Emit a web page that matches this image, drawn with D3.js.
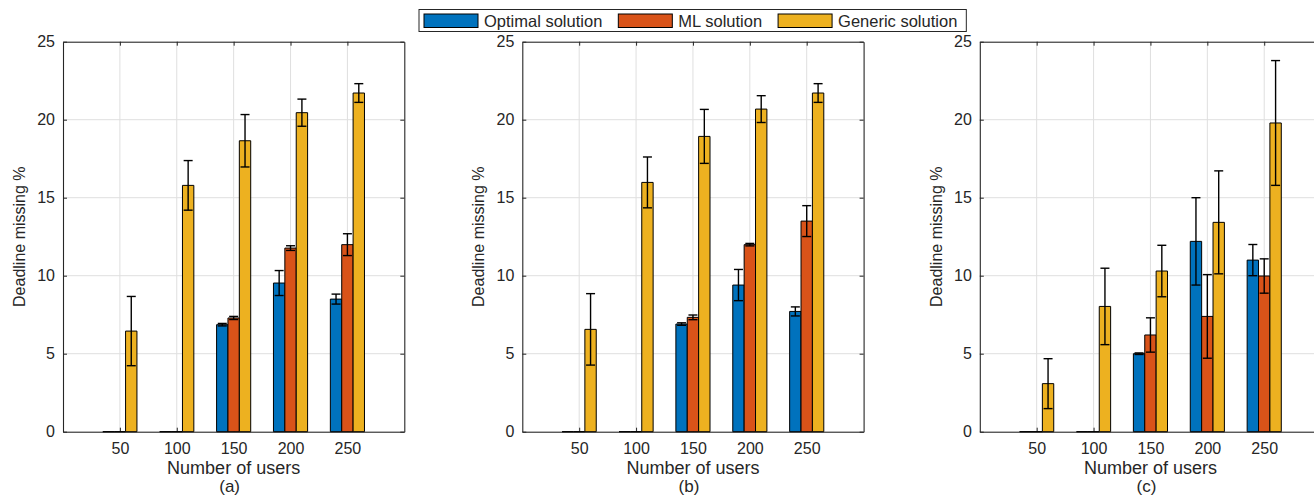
<!DOCTYPE html>
<html>
<head>
<meta charset="utf-8">
<script src="https://cdn.jsdelivr.net/npm/d3@7"></script>
<style>
  body { margin: 0; background: #fff; }
  text { font-family: "Liberation Sans", Arial, Helvetica, sans-serif; fill: #262626; }
</style>
</head>
<body>
<div id="chart"></div>
<script>
var users = [50, 100, 150, 200, 250];
var seriesNames = ["Optimal solution", "ML solution", "Generic solution"];
var seriesColors = ["#0072BD", "#D95319", "#EDB120"];
var panelLabels = ["(a)", "(b)", "(c)"];
var yTicks = [0, 5, 10, 15, 20, 25];

// panel (a)
var optimalA = [0, 0, 6.86, 9.53, 8.5];
var optimalErrA = [0, 0, 0.08, 0.8, 0.32];
var mlA = [0, 0, 7.29, 11.77, 11.99];
var mlErrA = [0, 0, 0.1, 0.15, 0.7];
var genericA = [6.45, 15.79, 18.65, 20.45, 21.71];
var genericErrA = [2.22, 1.59, 1.68, 0.87, 0.6];

// panel (b)
var optimalB = [0, 0, 6.9, 9.4, 7.71];
var optimalErrB = [0, 0, 0.08, 1.0, 0.29];
var mlB = [0, 0, 7.33, 11.99, 13.5];
var mlErrB = [0, 0, 0.15, 0.08, 0.99];
var genericB = [6.56, 15.98, 18.93, 20.68, 21.71];
var genericErrB = [2.29, 1.63, 1.73, 0.86, 0.6];

// panel (c)
var optimalC = [0, 0, 5.0, 12.2, 11.0];
var optimalErrC = [0, 0, 0.05, 2.8, 1.0];
var mlC = [0, 0, 6.2, 7.39, 9.98];
var mlErrC = [0, 0, 1.1, 2.68, 1.1];
var genericC = [3.08, 8.03, 10.3, 13.42, 19.79];
var genericErrC = [1.6, 2.45, 1.65, 3.3, 4.0];

var panels = [
    { label: panelLabels[0], means: [optimalA, mlA, genericA], errs: [optimalErrA, mlErrA, genericErrA] },
    { label: panelLabels[1], means: [optimalB, mlB, genericB], errs: [optimalErrB, mlErrB, genericErrB] },
    { label: panelLabels[2], means: [optimalC, mlC, genericC], errs: [optimalErrC, mlErrC, genericErrC] }
];

var width = 1314, height = 495;
var panelLeft = [63, 522.3, 979.8],
    panelWidth = 341.3,
    plotTop = 41.7,
    plotBottom = 431.7;
var axisColor = "#262626", gridColor = "#dfdfdf";
var barW = 0.2, capHalf = 4.5;

var svg = d3.select("#chart").append("svg")
    .attr("width", width)
    .attr("height", height);

panels.forEach(function (p, pi) {
    var left = panelLeft[pi];
    var x = d3.scaleLinear().domain([0, 6]).range([left, left + panelWidth]);
    var y = d3.scaleLinear().domain([0, 25]).range([plotBottom, plotTop]);
    var g = svg.append("g");

    // grid
    g.append("g").selectAll("line.vg").data(users).enter().append("line")
        .attr("x1", function (d, i) { return x(i + 1); })
        .attr("x2", function (d, i) { return x(i + 1); })
        .attr("y1", plotTop).attr("y2", plotBottom)
        .attr("stroke", gridColor).attr("stroke-width", 1);
    g.append("g").selectAll("line.hg").data(yTicks).enter().append("line")
        .attr("x1", left).attr("x2", left + panelWidth)
        .attr("y1", function (d) { return y(d); })
        .attr("y2", function (d) { return y(d); })
        .attr("stroke", gridColor).attr("stroke-width", 1);

    // axes, ticks pointing inwards
    var tickIdx = [1, 2, 3, 4, 5];
    var xAxis = g.append("g")
        .attr("transform", "translate(0," + plotBottom + ")")
        .call(d3.axisBottom(x).tickValues(tickIdx)
            .tickFormat(function (d) { return users[d - 1]; })
            .tickSizeInner(-4).tickSizeOuter(0).tickPadding(11));
    var yAxis = g.append("g")
        .attr("transform", "translate(" + left + ",0)")
        .call(d3.axisLeft(y).tickValues(yTicks)
            .tickSizeInner(-4).tickSizeOuter(0).tickPadding(8));
    var topAxis = g.append("g")
        .attr("transform", "translate(0," + plotTop + ")")
        .call(d3.axisTop(x).tickValues(tickIdx).tickFormat("")
            .tickSizeInner(-4).tickSizeOuter(0));
    var rightAxis = g.append("g")
        .attr("transform", "translate(" + (left + panelWidth) + ",0)")
        .call(d3.axisRight(y).tickValues(yTicks).tickFormat("")
            .tickSizeInner(-4).tickSizeOuter(0));
    [xAxis, yAxis, topAxis, rightAxis].forEach(function (a) {
        a.selectAll("path").attr("stroke", axisColor).attr("stroke-width", 1.1);
        a.selectAll("line").attr("stroke", axisColor).attr("stroke-width", 1);
        a.selectAll("text").attr("fill", axisColor)
            .style("font-size", "16px")
            .style("font-family", "'Liberation Sans', Arial, Helvetica, sans-serif");
    });

    // bars
    p.means.forEach(function (vals, s) {
        g.append("g").selectAll("path").data(vals).enter().append("path")
            .attr("d", function (d, i) {
                var c = i + 1 + (s - 1) * barW;
                var x0 = x(c - barW / 2), x1 = x(c + barW / 2);
                return "M" + x0 + "," + y(0) + "V" + y(d) + "H" + x1 + "V" + y(0) + "Z";
            })
            .attr("fill", seriesColors[s])
            .attr("stroke", "#000")
            .attr("stroke-width", 1);
    });

    // error bars
    p.means.forEach(function (vals, s) {
        var errs = p.errs[s];
        vals.forEach(function (m, i) {
            var e = errs[i];
            if (e <= 0) return;
            var cx = x(i + 1 + (s - 1) * barW);
            var eg = g.append("g").attr("stroke", "#000").attr("stroke-width", 1.4);
            eg.append("line").attr("x1", cx).attr("x2", cx)
                .attr("y1", y(m - e)).attr("y2", y(m + e));
            eg.append("line").attr("x1", cx - capHalf).attr("x2", cx + capHalf)
                .attr("y1", y(m + e)).attr("y2", y(m + e));
            eg.append("line").attr("x1", cx - capHalf).attr("x2", cx + capHalf)
                .attr("y1", y(m - e)).attr("y2", y(m - e));
        });
    });

    // labels
    g.append("text")
        .attr("x", left + panelWidth / 2).attr("y", 474)
        .attr("text-anchor", "middle")
        .style("font-size", "18px")
        .text("Number of users");
    g.append("text")
        .attr("transform", "translate(" + (left - 38) + "," + ((plotTop + plotBottom) / 2) + ") rotate(-90)")
        .attr("text-anchor", "middle")
        .style("font-size", "16px")
        .text("Deadline missing %");
    g.append("text")
        .attr("x", left + panelWidth / 2 - 4).attr("y", 492)
        .attr("text-anchor", "middle")
        .style("font-size", "17px")
        .text(p.label);
});

// legend
var legend = svg.append("g");
var legendBox = legend.append("rect")
    .attr("y", 9.5).attr("height", 22)
    .attr("fill", "#fff").attr("stroke", axisColor).attr("stroke-width", 1);
var lx = 424;
seriesNames.forEach(function (name, s) {
    legend.append("rect")
        .attr("x", lx).attr("y", 14).attr("width", 54).attr("height", 13.5)
        .attr("fill", seriesColors[s]).attr("stroke", "#000").attr("stroke-width", 1);
    var t = legend.append("text")
        .attr("x", lx + 60).attr("y", 26.5)
        .style("font-size", "16.5px")
        .text(name);
    lx = lx + 60 + t.node().getComputedTextLength() + 16;
});
legendBox.attr("x", 419).attr("width", lx - 16 + 9 - 419);
</script>
</body>
</html>
